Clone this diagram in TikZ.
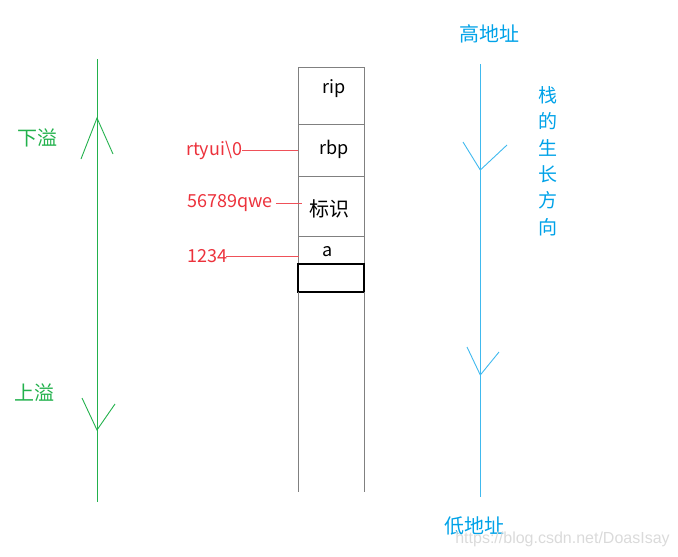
\documentclass[tikz,border=0pt]{standalone}
\usepackage{fontspec}
\setmainfont{Noto Sans CJK SC}
\newfontfamily\wmfont{Liberation Sans}
\definecolor{grn}{RGB}{34,177,76}
\definecolor{blu}{RGB}{0,162,232}
\definecolor{lred}{RGB}{236,50,60}
\definecolor{stk}{RGB}{128,128,128}
\definecolor{wmc}{RGB}{218,218,218}
\begin{document}
\begin{tikzpicture}[x=1pt,y=-1pt,
  cell/.style={draw=stk,line width=1pt,minimum width=66pt,inner sep=0,outer sep=0},
  lat/.style={inner sep=0,font=\fontsize{18}{18}\selectfont},
  cjkt/.style={inner sep=0,font=\fontsize{20}{20}\selectfont},
  redlab/.style={lat,text=lred,anchor=west},
  redline/.style={draw=lred!85,line width=0.8pt},
  gline/.style={draw=grn,line width=0.9pt},
  bline/.style={draw=blu!75,line width=0.9pt}]
\useasboundingbox (0,0) rectangle (678,557);
% stack cells
\node[cell,minimum height=57pt] (crip) at (331,95.5) {};
\node[cell,minimum height=52pt] (crbp) at (331,150) {};
\node[cell,minimum height=60pt] (cid) at (331,206) {};
\node[cell,minimum height=28pt] (ca) at (331,250) {};
\node[cell,draw=black,line width=1.4pt,minimum height=28pt] (cbox) at (331,278) {};
\coordinate (bl) at (298,492);
\coordinate (br) at (364,492);
\draw[stk,line width=1pt] (cbox.south west) -- (bl);
\draw[stk,line width=1pt] (cbox.south east) -- (br);
% stack texts
\node[lat] (trip) at (334.5,89) {rip};
\node[lat] (trbp) at (334,149) {rbp};
\node[cjkt] (tid) at (329,209) {标识};
\node[lat] (ta) at (328,252) {a};
% red labels
\node[redlab] (l1) at (186,150) {rtyui\textbackslash0};
\node[redlab] (l2) at (187,203) {56789qwe};
\node[redlab] (l3) at (187,256) {1234};
\draw[redline] (l1.east) -- (crbp.west |- l1.east);
\draw[redline] ([xshift=3pt]l2.east) -- ([xshift=4pt]cid.west |- l2.east);
\draw[redline] ([xshift=-1pt]l3.east) -- ([xshift=1pt]ca.west |- l3.east);
% green axis
\coordinate (gtop) at (97,59);
\coordinate (gbot) at (97,502);
\draw[gline] (gtop) -- (gbot);
\draw[gline] (81,159) -- (97,118) -- (113,154);
\draw[gline] (82,398) -- (97,430) -- (115,404);
\node[cjkt,text=grn] (xia) at (37.5,138) {下溢};
\node[cjkt,text=grn] (shang) at (34,393) {上溢};
% blue axis
\coordinate (btop) at (480.3,64);
\coordinate (bbot) at (480.3,497);
\draw[bline] (btop) -- (bbot);
\draw[bline] (463,142) -- (480.3,170) -- (507,145);
\draw[bline] (467,347) -- (480.3,375) -- (499,352);
\node[cjkt,text=blu] (gao) at (489,34) {高地址};
\node[cjkt,text=blu] (di) at (474,526) {低地址};
\node[cjkt,text=blu,align=center,font=\fontsize{19}{26.4}\selectfont] (dir) at (547.5,161) {栈\\的\\生\\长\\方\\向};
% watermark
\node[inner sep=0,text=wmc,font=\wmfont\fontsize{16}{16}\selectfont] (wm) at (562.5,539.5) {https://blog.csdn.net/DoasIsay};
\end{tikzpicture}
\end{document}
